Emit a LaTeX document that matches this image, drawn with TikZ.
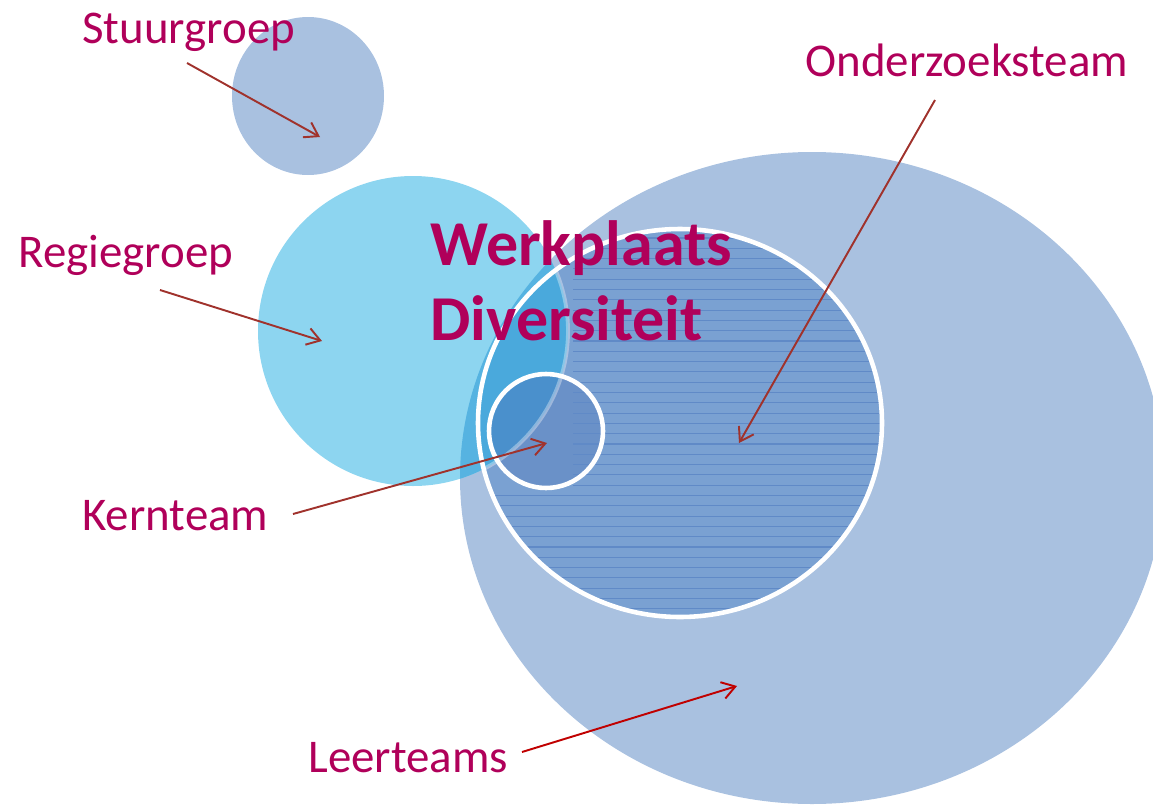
\documentclass[tikz,border=0pt]{standalone}
\usepackage{fontspec}
\setmainfont{Carlito}
\usetikzlibrary{arrows.meta}

\definecolor{leerblauw}{HTML}{A9C1E0}
\definecolor{regieblauw}{HTML}{8DD5F0}
\definecolor{regieleer}{HTML}{56B3E1}
\definecolor{onderblauw}{HTML}{7AA1D2}
\definecolor{regieonder}{HTML}{4AA9DC}
\definecolor{streepblauw}{HTML}{608AC7}
\definecolor{kernblauw}{HTML}{6A91C8}
\definecolor{regiekern}{HTML}{4A90CC}
\definecolor{tekstrood}{HTML}{B0005A}
\definecolor{pijlrood}{HTML}{A0322C}
\definecolor{felrood}{HTML}{C00000}

\tikzset{
	etiket/.style={anchor=base west,inner sep=0pt,text=tekstrood,font=\fontsize{26.7}{32}\selectfont},
	titel/.style={anchor=base west,inner sep=0pt,text=tekstrood,font=\fontsize{36.4}{43}\selectfont\bfseries},
	pijlstijl/.style={draw=pijlrood,line width=1.1pt,-{Straight Barb[length=2.6mm,width=3.4mm,line width=1.1pt]}},
	rand/.style={draw=white,line width=2.6pt}
}

\begin{document}
\begin{tikzpicture}[x=0.02cm,y=-0.02cm]
	\useasboundingbox (0,0) rectangle (1153,805);
	% cirkels
	\fill[leerblauw] (812,478) ellipse [x radius=352,y radius=326];
	\fill[leerblauw] (308,96) ellipse [x radius=76,y radius=79];
	\fill[regieblauw] (413,331) circle [radius=155];
	\begin{scope}
		\clip (812,478) ellipse [x radius=352,y radius=326];
		\fill[regieleer] (413,331) circle [radius=155];
	\end{scope}
	\fill[onderblauw] (680,423) ellipse [x radius=202,y radius=194];
	\begin{scope}
		\clip (680,423) ellipse [x radius=202,y radius=194];
		\fill[regieonder] (413,331) circle [radius=155];
	\end{scope}
	\fill[kernblauw] (546,431) circle [radius=57];
	\begin{scope}
		\clip (546,431) circle [radius=57];
		\fill[regiekern] (413,331) circle [radius=155];
	\end{scope}
	\begin{scope}
		\clip (680,423) ellipse [x radius=202,y radius=194];
		\clip (573,0) rectangle (1153,805) (0,488) rectangle (1153,805);
		\foreach \y in {238,248.3,...,625}
			\draw[streepblauw,line width=0.6pt] (470,\y) -- (890,\y);
	\end{scope}
	\begin{scope}
		\clip (680,423) ellipse [x radius=202,y radius=194];
		\draw[white,opacity=0.35,line width=2.2pt] (413,331) circle [radius=155];
	\end{scope}
	\draw[rand] (680,423) ellipse [x radius=202,y radius=194];
	\draw[rand] (546,431) circle [radius=57];

	% teksten
	\node[etiket] (stuurgroep) at (82,43) {Stuurgroep};
	\node[etiket] (onderzoeksteam) at (805,76) {Onderzoeksteam};
	\node[etiket] (regiegroep) at (18,267) {Regiegroep};
	\node[etiket] (kernteam) at (82,530) {Kernteam};
	\node[etiket] (leerteams) at (308,772) {Leerteams};
	\node[titel] (werkplaats) at (430,265) {Werkplaats};
	\node[titel] (diversiteit) at (430,340) {Diversiteit};

	% pijlen
	\coordinate (stuurpunt) at (320,137);
	\coordinate (regiepunt) at (322,341);
	\coordinate (kernpunt) at (547,443);
	\coordinate (onderpunt) at (739,443);
	\coordinate (leerpunt) at (737,686);
	\draw[pijlstijl] ([shift={(105,20)}]stuurgroep.base west) -- (stuurpunt);
	\draw[pijlstijl] ([shift={(142,23)}]regiegroep.base west) -- (regiepunt);
	\draw[pijlstijl] ([shift={(211,-16)}]kernteam.base west) -- (kernpunt);
	\draw[pijlstijl] ([shift={(130,24)}]onderzoeksteam.base west) -- (onderpunt);
	\draw[pijlstijl,draw=felrood] ([shift={(214,-20)}]leerteams.base west) -- (leerpunt);
\end{tikzpicture}
\end{document}
